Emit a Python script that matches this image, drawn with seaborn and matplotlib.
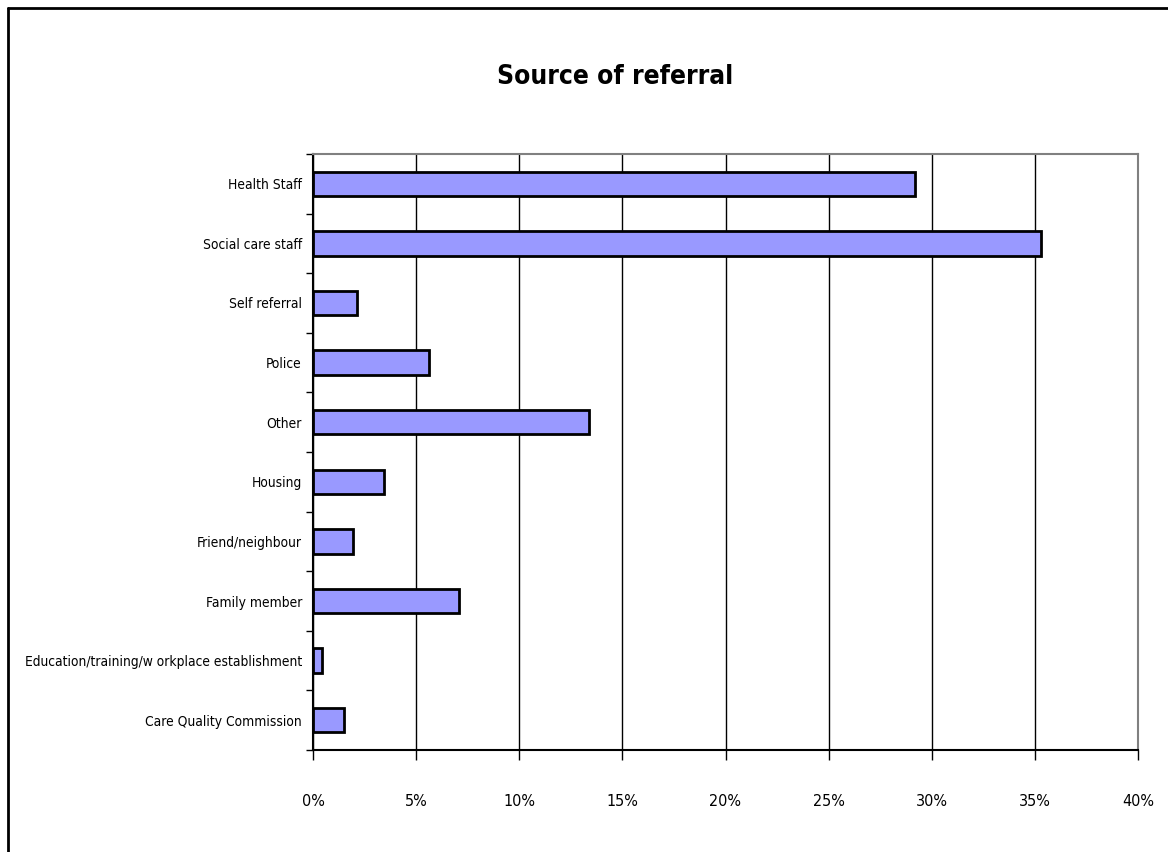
import matplotlib
matplotlib.use("Agg")
import matplotlib.pyplot as plt
import seaborn as sns
import pandas as pd
import numpy as np
from matplotlib.lines import Line2D
from matplotlib.ticker import FixedLocator, FuncFormatter
from matplotlib import font_manager as fm

categories = ["Health Staff", "Social care staff", "Self referral", "Police", "Other",
              "Housing", "Friend/neighbour", "Family member",
              "Education/training/w orkplace establishment", "Care Quality Commission"]
values = [29.2, 35.3, 2.15, 5.6, 13.4, 3.45, 1.95, 7.1, 0.46, 1.5]
x_ticks = [0, 5, 10, 15, 20, 25, 30, 35, 40]
title = "Source of referral"

sns.set_theme(style="white")

# pick a narrow / condensed sans family if one is installed
def find_narrow(bold=False):
    best = None
    for f in fm.fontManager.ttflist:
        nm = f.name.lower()
        st = str(f.stretch).lower()
        narrow = ("narrow" in nm or "condensed" in nm or "condensed" in st or "narrow" in st)
        if not narrow or "mono" in nm or "serif" in nm and "sans" not in nm:
            continue
        if "semi" in nm or "semi" in st or "extra" in nm or "extra" in st:
            continue
        w = f.weight if isinstance(f.weight, int) else (700 if "bold" in str(f.weight) else 400)
        if f.style != "normal":
            continue
        if bold and w < 600:
            continue
        if not bold and w >= 600:
            continue
        score = 0
        if "liberation" in nm or "arial" in nm:
            score += 3
        if "dejavu" in nm:
            score += 1
        if best is None or score > best[0]:
            best = (score, f.fname)
    return best[1] if best else None

reg_path = find_narrow(False)
bold_path = find_narrow(True)
if reg_path:
    fp_reg = fm.FontProperties(fname=reg_path)
else:
    fp_reg = fm.FontProperties(family="DejaVu Sans")
if bold_path:
    fp_bold = fm.FontProperties(fname=bold_path)
else:
    fp_bold = fm.FontProperties(family="DejaVu Sans", weight="bold")

df = pd.DataFrame({"category": categories, "value": values})

fig = plt.figure(figsize=(11.68, 8.52), dpi=100)
renderer = fig.canvas.get_renderer()

def fit_size(text, fp, target_w, max_size):
    fp2 = fp.copy()
    fp2.set_size(20)
    t = fig.text(0, 0, text, fontproperties=fp2)
    w = t.get_window_extent(renderer).width
    t.remove()
    return min(max_size, 20 * target_w / w)

ylab_size = fit_size("Education/training/w orkplace establishment", fp_reg, 276, 15)
xlab_size = fit_size("40%", fp_reg, 32, 15)
title_size = fit_size(title, fp_bold, 236, 30)

fp_y = fp_reg.copy(); fp_y.set_size(ylab_size)
fp_x = fp_reg.copy(); fp_x.set_size(xlab_size)
fp_t = fp_bold.copy(); fp_t.set_size(title_size)

ax = fig.add_axes([313/1168, 1 - 750/852, (1138-313)/1168, (750-154)/852])

sns.barplot(data=df, x="value", y="category", orient="h", color="#9999FF",
            saturation=1, width=0.41, edgecolor="black", linewidth=2, ax=ax, zorder=3)

ax.set_xlim(0, 40)
ax.set_ylim(len(categories) - 0.5, -0.5)
ax.set_xticks(x_ticks)
ax.xaxis.set_major_formatter(FuncFormatter(lambda v, p: f"{int(v)}%"))
ax.xaxis.grid(True, color="black", linewidth=1)
ax.yaxis.grid(False)
ax.set_axisbelow(True)
ax.set_xlabel("")
ax.set_ylabel("")

ax.yaxis.set_minor_locator(FixedLocator(np.arange(-0.5, len(categories), 1.0)))
ax.tick_params(axis="y", which="major", length=0, pad=8, labelcolor="black")
ax.tick_params(axis="y", which="minor", left=True, length=5, width=1, color="black", direction="out")
ax.tick_params(axis="x", which="major", bottom=True, length=7, width=1, color="black",
               direction="out", pad=25, labelcolor="black")
for lab in ax.get_yticklabels():
    lab.set_fontproperties(fp_y)
for lab in ax.get_xticklabels():
    lab.set_fontproperties(fp_x)

for side in ["left", "bottom"]:
    ax.spines[side].set_color("black")
    ax.spines[side].set_linewidth(1.5)
for side in ["top", "right"]:
    ax.spines[side].set_color("#808080")
    ax.spines[side].set_linewidth(1.5)

fig.text(615/1168, 1 - 77/852, title, ha="center", va="center",
         fontproperties=fp_t, color="black")

fig.add_artist(Line2D([8/1168, 1.0], [1 - 8/852, 1 - 8/852], transform=fig.transFigure,
                      color="black", linewidth=2))
fig.add_artist(Line2D([8/1168, 8/1168], [0.0, 1 - 8/852], transform=fig.transFigure,
                      color="black", linewidth=2))

fig.savefig("out.png", dpi=100, facecolor="white")
